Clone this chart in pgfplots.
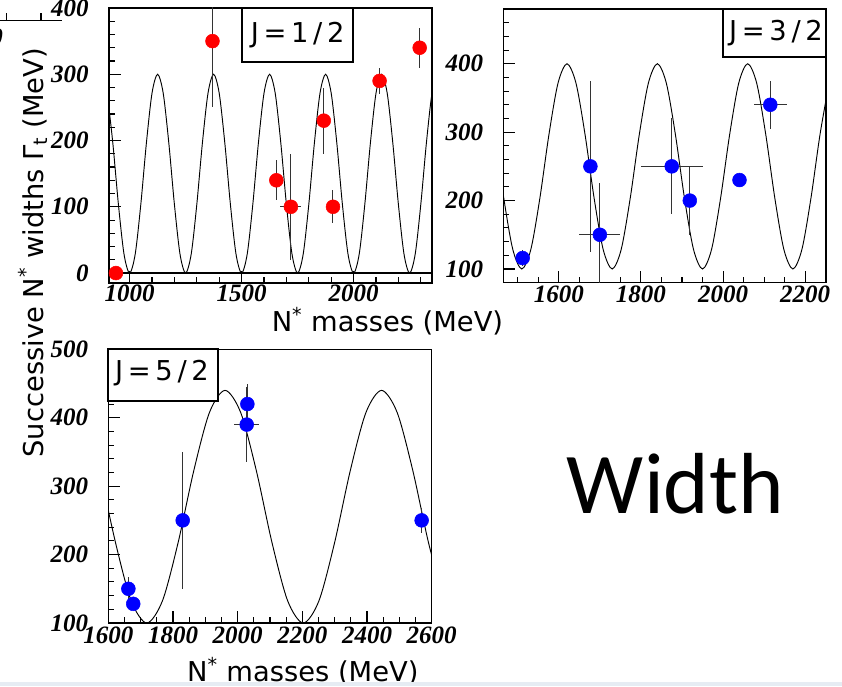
\documentclass[border=0pt]{standalone}
\usepackage{fontspec}
\usepackage{pgfplots}
\pgfplotsset{compat=1.18}
\setmainfont{DejaVu Sans}
\newfontfamily\tickfont{Liberation Serif}
\newfontfamily\widthfont{Carlito}
\newcommand\labsize{\fontsize{20.5}{24}\selectfont}
\definecolor{strip}{RGB}{230,236,243}
\pgfplotsset{
  panel/.style={
    scale only axis, tick pos=left, tick align=inside,
    axis line style={line width=1.2pt},
    major tick length=9pt, minor tick length=4.5pt,
    tick style={line width=0.8pt, black},
    tick label style={font=\tickfont\bfseries\itshape\fontsize{18.75}{20}\selectfont, inner sep=0pt},
    yticklabel style={xshift=-15pt},
    /pgf/number format/assume math mode=true,
    /pgf/number format/1000 sep={},
  },
  curve/.style={black, line width=0.7pt, smooth, no marks},
  pts/.style={only marks, mark=*, mark size=5.2pt,
    error bars/x dir=both, error bars/x explicit,
    error bars/y dir=both, error bars/y explicit,
    error bars/error mark=none,
    error bars/error bar style={line width=0.75pt, black!80}},
}
\begin{document}
\begin{tikzpicture}
\path[use as bounding box] (0,0) rectangle (631.5pt,514.5pt);
% ---------------- J=1/2 ----------------
\begin{axis}[panel, at={(81.75pt,302.25pt)}, anchor=south west,
  width=242.25pt, height=206.25pt,
  xmin=908, xmax=2350, ymin=-15, ymax=400,
  xtick={1000,1500,2000}, minor xtick={1000,1100,...,2300},
  ytick={0,100,...,400}, minor ytick={0,20,...,400},
  xticklabel style={yshift=-1pt}]
\addplot[curve] coordinates {
(900,271.4)(925,196.4)(950,103.6)(975,28.6)
(1000,0)(1025,28.6)(1050,103.6)(1075,196.4)(1100,271.4)(1125,300)(1150,271.4)(1175,196.4)(1200,103.6)(1225,28.6)
(1250,0)(1275,28.6)(1300,103.6)(1325,196.4)(1350,271.4)(1375,300)(1400,271.4)(1425,196.4)(1450,103.6)(1475,28.6)
(1500,0)(1525,28.6)(1550,103.6)(1575,196.4)(1600,271.4)(1625,300)(1650,271.4)(1675,196.4)(1700,103.6)(1725,28.6)
(1750,0)(1775,28.6)(1800,103.6)(1825,196.4)(1850,271.4)(1875,300)(1900,271.4)(1925,196.4)(1950,103.6)(1975,28.6)
(2000,0)(2025,28.6)(2050,103.6)(2075,196.4)(2100,271.4)(2125,300)(2150,271.4)(2175,196.4)(2200,103.6)(2225,28.6)
(2250,0)(2275,28.6)(2300,103.6)(2325,196.4)(2350,271.4)(2375,300)};
\addplot[black, line width=1.5pt, no marks] coordinates {(880,0)(2380,0)};
\addplot[pts, red] table[x=x, y=y, x error=ex, y error=ey] {
x y ex ey
939 0 0 0
1370 350 0 100
1655 140 0 30
1720 100 47 80
1867 230 0 50
1908 100 0 25
2116 290 0 20
2295 340 0 30
};
\end{axis}
% ---------------- J=3/2 ----------------
\begin{axis}[panel, at={(377.5pt,302.5pt)}, anchor=south west,
  width=241.8pt, height=205.25pt,
  xmin=1465, xmax=2250, ymin=80, ymax=480,
  xtick={1600,1800,2000,2200}, minor xtick={1500,1550,...,2250},
  ytick={100,200,300,400}, minor ytick={80,100,...,480},
  xticklabel style={yshift=-2.5pt}]
\addplot[curve] coordinates {
(1444,296.35)(1466,203.65)(1488,128.65)
(1510,100)(1532,128.65)(1554,203.65)(1576,296.35)(1598,371.35)(1620,400)(1642,371.35)(1664,296.35)(1686,203.65)(1708,128.65)
(1730,100)(1752,128.65)(1774,203.65)(1796,296.35)(1818,371.35)(1840,400)(1862,371.35)(1884,296.35)(1906,203.65)(1928,128.65)
(1950,100)(1972,128.65)(1994,203.65)(2016,296.35)(2038,371.35)(2060,400)(2082,371.35)(2104,296.35)(2126,203.65)(2148,128.65)
(2170,100)(2192,128.65)(2214,203.65)(2236,296.35)(2258,371.35)};
\addplot[pts, blue] table[x=x, y=y, x error=ex, y error=ey] {
x y ex ey
1512 116 0 12
1677 250 0 125
1700 150 50 75
1875 250 75 70
1919 200 0 50
2040 230 0 0
2115 340 40 35
};
\end{axis}
% ---------------- J=5/2 ----------------
\begin{axis}[panel, at={(81.25pt,47.25pt)}, anchor=south west,
  width=242.5pt, height=205.25pt,
  xmin=1600, xmax=2600, ymin=100, ymax=500,
  xtick={1600,1800,...,2600}, minor xtick={1600,1650,...,2600},
  ytick={100,200,...,500}, minor ytick={100,120,...,500},
  xticklabel style={yshift=-3pt}]
\addplot[curve] coordinates {
(1573.8,322.53)(1622.2,217.47)(1670.6,132.47)
(1719,100)(1767.4,132.47)(1815.8,217.47)(1864.2,322.53)(1912.6,407.53)(1961,440)(2009.4,407.53)(2057.8,322.53)(2106.2,217.47)(2154.6,132.47)
(2203,100)(2251.4,132.47)(2299.8,217.47)(2348.2,322.53)(2396.6,407.53)(2445,440)(2493.4,407.53)(2541.8,322.53)(2590.2,217.47)(2638.6,132.47)};
\addplot[pts, blue] table[x=x, y=y, x error=ex, y error=ey] {
x y ex ey
1662 150 0 17
1677 128 0 0
1830 250 0 100
2028 390 38 55
2030 420 0 30
2569 250 0 18
};
\end{axis}
% ---------------- boxes ----------------
\draw[line width=1.3pt, fill=white] (181.5pt,508.5pt) rectangle (265pt,468pt);
\node[font=\labsize, inner sep=0pt] at (223.25pt,488pt) {J\kern3.5pt=\kern3.5pt1\kern3.5pt/\kern3.5pt2};
\draw[line width=1.3pt, fill=white] (542pt,507.75pt) rectangle (619.3pt,472pt);
\node[font=\labsize, inner sep=0pt] at (582pt,489.75pt) {J\kern3.5pt=\kern3.5pt3\kern3.5pt/\kern3.5pt2};
\draw[line width=1.3pt, fill=white] (81.25pt,252.5pt) rectangle (163.75pt,214pt);
\node[font=\labsize, inner sep=0pt] at (121.5pt,234.5pt) {J\kern3.5pt=\kern3.5pt5\kern3.5pt/\kern3.5pt2};
% ---------------- labels ----------------
\node[font=\labsize, anchor=base, inner sep=0pt] at (290.6pt,265.7pt) {N\textsuperscript{*} masses (MeV)};
\node[font=\labsize, anchor=base, inner sep=0pt] at (227.1pt,3.4pt) {N\textsuperscript{*} masses (MeV)};
\node[font=\labsize, anchor=base, inner sep=0pt, rotate=90] at (32.25pt,325pt) {Successive N\textsuperscript{*} widths Γ\textsubscript{t} (MeV)};
\node[font=\widthfont\fontsize{65}{70}\selectfont, anchor=base west, inner sep=0pt] at (425pt,129.75pt) {Width};
% ---------------- fragment top-left ----------------
\draw[line width=1pt] (0pt,499pt) -- (46.3pt,499pt);
\draw[line width=0.8pt] (5pt,499pt) -- (5pt,504.75pt) (30.75pt,499pt) -- (30.75pt,504.75pt);
\node[font=\tickfont\bfseries\itshape\fontsize{18.75}{20}\selectfont, inner sep=0pt] at (-2.5pt,486.75pt) {0};
% ---------------- bottom strip ----------------
\fill[strip] (0pt,0pt) rectangle (631.5pt,3.2pt);
\end{tikzpicture}
\end{document}
